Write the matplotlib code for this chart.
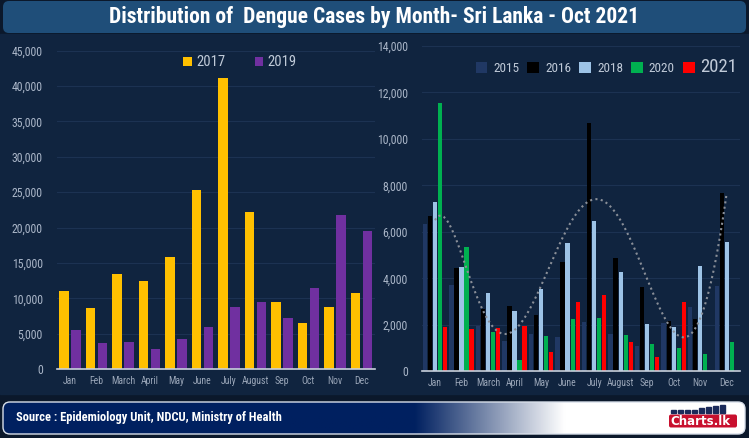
import numpy as np
import matplotlib.pyplot as plt
from matplotlib.patches import FancyBboxPatch, Rectangle

# data
months = ["Jan", "Feb", "March", "April", "May", "June", "July",
          "August", "Sep", "Oct", "Nov", "Dec"]
cases_2017 = [11000, 8700, 13450, 12500, 15850, 25300, 41150, 22200, 9500, 6550, 8800, 10800]
cases_2019 = [5550, 3700, 3850, 2850, 4300, 6000, 8800, 9500, 7250, 11500, 21800, 19550]

cases_2015 = [6320, 3700, 1950, 1300, 1600, 1470, 2120, 1600, 1090, 2070, 2760, 3660]
cases_2016 = [6660, 4430, 2660, 2800, 2420, 4690, 10700, 4860, 3620, 2160, 2250, 7650]
cases_2018 = [7280, 4480, 3360, 2590, 3530, 5500, 6450, 4260, 2030, 1900, 4520, 5550]
cases_2020 = [11560, 5340, 1690, 490, 1520, 2250, 2290, 1560, 1170, 1000, 740, 1260]
cases_2021 = [1900, 1820, 1860, 1940, 830, 2970, 3280, 1260, 610, 2970, np.nan, np.nan]

left_years = ["2017", "2019"]
left_colors = ["#FFC000", "#7030A0"]
right_years = ["2015", "2016", "2018", "2020", "2021"]
right_colors = ["#203864", "#000000", "#9DC3E6", "#00B050", "#FF0000"]

title = "Distribution of  Dengue Cases by Month- Sri Lanka - Oct 2021"
source = "Source : Epidemiology Unit, NDCU, Ministry of Health"

BG = "#10243f"
TICK = "#aab6c8"
NARROW = ["Roboto Condensed", "DejaVu Sans Condensed", "Liberation Sans Narrow", "DejaVu Sans"]

W, H = 749, 438
fig = plt.figure(figsize=(W / 100, H / 100), dpi=100, facecolor="#0b182b")

# background decorations in pixel coordinates
bg = fig.add_axes([0, 0, 1, 1])
bg.set_zorder(-1)
bg.axis("off")
bg.add_patch(Rectangle((0, 34), W, 360, color=BG, zorder=0))
bg.add_patch(FancyBboxPatch((3, 1), 743, 32, boxstyle="round,pad=0,rounding_size=6",
                            fc="#1f4e79", ec="none", zorder=2))
bg.text(374, 17.5, title, ha="center", va="center", color="white", fontsize=15.5,
        fontweight="bold", family=NARROW, fontstretch="condensed", zorder=3)

# footer with gradient
foot = FancyBboxPatch((3, 402), 742, 32, boxstyle="round,pad=0,rounding_size=7",
                      fc="none", ec="#d8dfea", lw=1.0, zorder=3)
bg.add_patch(foot)
xs_px = np.linspace(3, 745, 400)
t = np.clip((xs_px - 415) / 150, 0, 1)
c0 = np.array([0, 32, 96]) / 255
grad = (c0[None, :] * (1 - t[:, None]) + t[:, None])[None, :, :]
im = bg.imshow(grad, extent=[3, 745, 434, 402], aspect="auto", zorder=2)
im.set_clip_path(foot)
bg.text(16, 418, source, ha="left", va="center", color="white", fontsize=9,
        fontweight="bold", family=NARROW, fontstretch="condensed", zorder=4)

# charts.lk logo
bg.add_patch(FancyBboxPatch((669, 414.5), 68, 13, boxstyle="round,pad=0,rounding_size=2",
                            fc="#c8102e", ec="none", zorder=4))
bg.text(700, 421.5, "Charts.lk", ha="center", va="center", color="white",
        fontsize=8.5, fontweight="bold", zorder=5)
for i, hgt in enumerate([3, 3, 3, 3, 5, 6, 7, 8]):
    bg.add_patch(Rectangle((671 + i * 7, 413 - hgt), 4.5, hgt, color="#1a2a5a", zorder=4))
bg.set_xlim(0, W)
bg.set_ylim(H, 0)

x = np.arange(len(months))


def style(ax, ymax, step):
    ax.set_facecolor("none")
    ax.set_xlim(-0.5, 11.5)
    ax.set_ylim(0, ymax)
    ax.set_axisbelow(True)
    ax.yaxis.grid(True, color="#1c3252", lw=0.8)
    for s in ["top", "right", "left"]:
        ax.spines[s].set_visible(False)
    ax.spines["bottom"].set_color("#c8d0dc")
    ax.spines["bottom"].set_linewidth(1.2)
    ticks = np.arange(0, ymax + 1, step)
    ax.set_yticks(ticks)
    ax.set_yticklabels([f"{v:,}" for v in ticks], family=NARROW, fontstretch="condensed")
    ax.set_xticks(x)
    ax.set_xticklabels(months, family=NARROW, fontstretch="condensed")
    ax.tick_params(axis="y", length=0, labelcolor=TICK, labelsize=8.5, pad=10)
    ax.tick_params(axis="x", length=0, labelcolor="#9aa6b8", labelsize=7, pad=5)


# left chart: 2017 vs 2019
ax1 = fig.add_axes([56.75 / W, (H - 369.3) / H, 318 / W, 318.8 / H])
style(ax1, 45000, 5000)
ax1.bar(x - 0.235, cases_2017, width=0.36, color=left_colors[0], label=left_years[0])
ax1.bar(x + 0.235, cases_2019, width=0.36, color=left_colors[1], label=left_years[1])
ax1.legend(loc="center left", bbox_to_anchor=((176 - 56.75) / 318, 0.963), ncol=2,
           frameon=False, borderpad=0,
           prop={"family": NARROW, "size": 10.5, "stretch": "condensed"}, labelcolor="#c0cad8",
           handlelength=0.6, handleheight=0.6, handletextpad=0.3, columnspacing=2.0)

# right chart: 2015-2021
ax2 = fig.add_axes([421.7 / W, (H - 371.3) / H, 318.3 / W, 325.5 / H])
style(ax2, 14000, 2000)
series = [cases_2015, cases_2016, cases_2018, cases_2020, cases_2021]
for k, (vals, yr, col) in enumerate(zip(series, right_years, right_colors)):
    ax2.bar(x + (k - 2) * 0.19, vals, width=0.16, color=col, label=yr)

# polynomial trendline through the 2016 series
coef = np.polyfit(x, cases_2016, 6)
xs = np.linspace(0, 11, 200)
ax2.plot(xs, np.polyval(coef, xs), color="#8a8f98", ls=(0, (1, 1.6)), lw=1.5)

leg = ax2.legend(loc="center left", bbox_to_anchor=((469 - 421.7) / 318.3, 0.935), ncol=5,
                 frameon=False, borderpad=0,
                 prop={"family": NARROW, "size": 9.5, "stretch": "condensed"},
                 labelcolor="#c0cad8",
                 handlelength=0.9, handleheight=0.9, handletextpad=0.45,
                 columnspacing=0.6)
leg.get_texts()[-1].set_fontsize(13.5)

fig.savefig("out.png", dpi=100, facecolor=fig.get_facecolor())
